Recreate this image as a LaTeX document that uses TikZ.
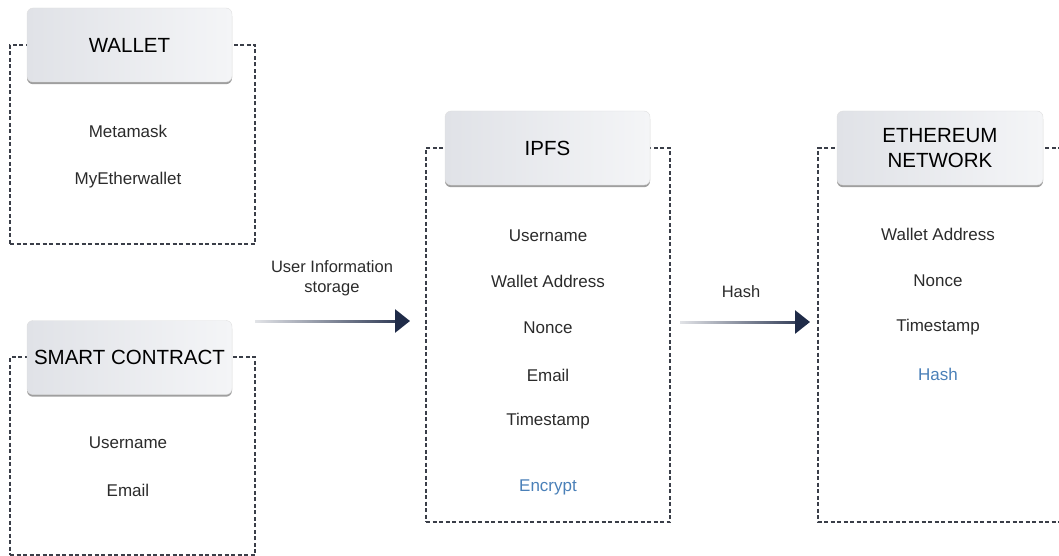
\documentclass[tikz,border=0pt]{standalone}
\usepackage{fontspec}
\setmainfont{Liberation Sans}
\usetikzlibrary{arrows.meta,fadings,shadows}
\definecolor{navy}{HTML}{1F2B48}
\definecolor{dashc}{HTML}{3A3E48}
\definecolor{txt}{HTML}{2B2B2B}
\definecolor{bluet}{HTML}{4A80B8}
\definecolor{hdl}{HTML}{E0E2E7}
\definecolor{hdr}{HTML}{F4F5F7}
\tikzfading[name=fadein, left color=transparent!88, right color=transparent!0]
\tikzset{
  frame/.style={draw=dashc, dash pattern=on 4pt off 2.5pt, line width=1.1pt},
  header/.style={rounded corners=6pt, left color=hdl, right color=hdr, draw=gray!25, line width=0.4pt,
    minimum width=205pt, minimum height=74pt, text=black, font=\fontsize{20.5}{25}\selectfont, align=center,
    general shadow={shadow yshift=-2.2pt, fill=gray!75}},
  item/.style={text=txt, font=\fontsize{17}{20}\selectfont},
  bitem/.style={text=bluet, font=\fontsize{17}{20}\selectfont},
  lbl/.style={text=txt, font=\fontsize{16.5}{20}\selectfont, align=center},
  flowline/.style={navy, line width=3pt, shorten >=12pt, path fading=fadein},
  flowhead/.style={navy, line width=3pt, -{Triangle[length=15pt,width=23pt]}}
}
\begin{document}
\begin{tikzpicture}[x=1pt,y=-1pt]
\useasboundingbox (0,0) rectangle (1059,556);
% frames
\node[frame, minimum width=245pt, minimum height=199pt, inner sep=0pt] (wbox) at (132.5,144.5) {};
\node[frame, minimum width=245pt, minimum height=198pt, inner sep=0pt] (sbox) at (132.5,456) {};
\node[frame, minimum width=244pt, minimum height=374pt, inner sep=0pt] (ibox) at (548,335) {};
\coordinate (etl) at (1075,148);
\coordinate (ebl) at (1075,522);
\draw[frame] (etl) -- (818,148) -- (818,522) -- (ebl);
% headers
\node[header] (wh) at (129.5,45) {WALLET};
\node[header] (sh) at (129.5,357.5) {SMART CONTRACT};
\node[header] (ih) at (547.5,148) {IPFS};
\node[header, minimum width=206pt] (eh) at (940,148) {ETHEREUM\\NETWORK};
% wallet items
\node[item] (w1) at (128,131) {Metamask};
\node[item] (w2) at (128,180) {MyEtherwallet};
% smart contract items
\node[item] (s1) at (128,443) {Username};
\node[item] (s2) at (128,490) {Email};
% ipfs items
\node[item] (i1) at (548,236) {Username};
\node[item] (i2) at (548,281) {Wallet Address};
\node[item] (i3) at (548,328) {Nonce};
\node[item] (i4) at (548,375) {Email};
\node[item] (i5) at (548,421) {Timestamp};
\node[bitem] (i6) at (548,487) {Encrypt};
% ethereum items
\node[item] (e1) at (938,234) {Wallet Address};
\node[item] (e2) at (938,281) {Nonce};
\node[item] (e3) at (938,327) {Timestamp};
\node[bitem] (e4) at (938,374) {Hash};
% arrows
\coordinate (a1s) at (255,321);
\coordinate (a1e) at (410,321);
\draw[flowline] (a1s) -- (a1e);
\draw[flowhead, shorten <=140pt] (a1s) -- (a1e);
\node[lbl] (l1) at (332,278) {User Information\\storage};
\coordinate (a2s) at (680,322);
\coordinate (a2e) at (810,322);
\draw[flowline] (a2s) -- (a2e);
\draw[flowhead, shorten <=115pt] (a2s) -- (a2e);
\node[lbl] (l2) at (741,292) {Hash};
\end{tikzpicture}
\end{document}
